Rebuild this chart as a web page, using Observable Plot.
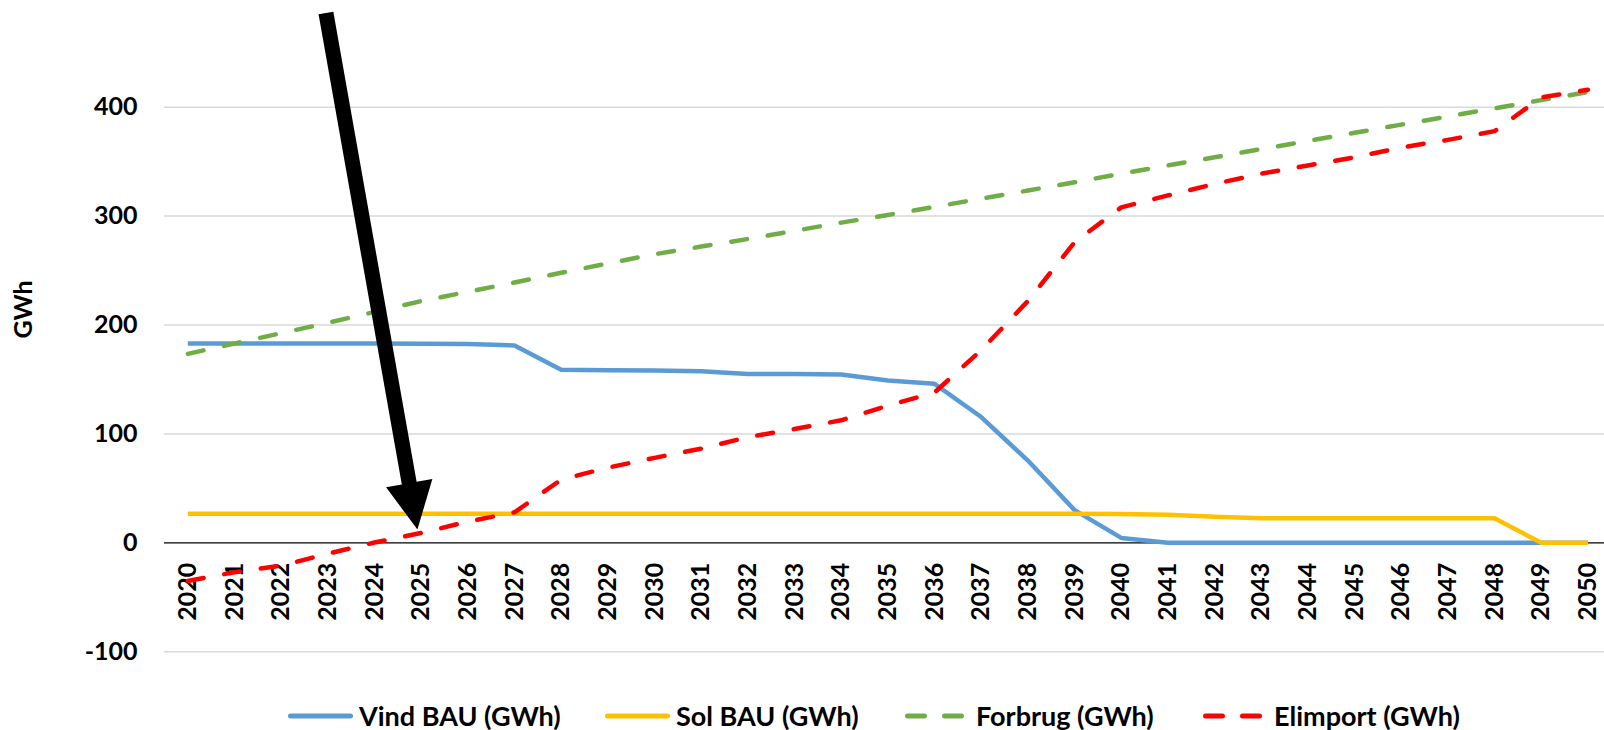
<!DOCTYPE html>
<html><head><meta charset="utf-8">
<script src="https://cdn.jsdelivr.net/npm/d3@7"></script>
<script src="https://cdn.jsdelivr.net/npm/@observablehq/plot@0.6"></script>
<style>
body{margin:0;background:#fff;font-family:Lato,"Open Sans",sans-serif;overflow:hidden;}
#legend{position:relative;height:40px;font-weight:bold;font-size:27px;line-height:40px;color:#000;white-space:nowrap;}
.item{position:absolute;top:0;height:40px;display:flex;align-items:center;}
.item svg{display:block;}
</style></head><body>
<div id="chart"></div>
<div id="legend"></div>
<script>
const YEARS = [2020,2021,2022,2023,2024,2025,2026,2027,2028,2029,2030,2031,2032,2033,2034,2035,2036,2037,2038,2039,2040,2041,2042,2043,2044,2045,2046,2047,2048,2049,2050];
const VIND = [183,183,183,183,183,182.7,182.5,181.2,159,158.5,158.3,157.5,155,155,154.5,149,146,115.5,75.5,30,4.5,0,0,0,0,0,0,0,0,0,0];
const SOL = [26.6,26.6,26.6,26.6,26.6,26.6,26.6,26.6,26.6,26.6,26.6,26.6,26.6,26.6,26.6,26.6,26.6,26.6,26.6,26.6,26.5,25.8,24,22.6,22.6,22.6,22.6,22.6,22.6,0,0];
const FORBRUG = [173.5,183,192.5,202,212,222,230.5,239,248,256.5,265,272,279,286.5,294,301,308.5,316,323.5,331,339,346.5,354,361.5,369,376.5,384,391.5,399,406.5,414];
const ELIMPORT = [-35,-27,-21,-10,0.3,9,19.5,28,58,69,78,86.5,97,104.5,112.5,126,138,177,222,276,308,319,329.5,339,346.5,354,363,370,378,409,416];
const Y_TICKS = [-100,0,100,200,300,400];
const Y_LABEL = "GWh";
const SERIES_NAMES = ["Vind BAU (GWh)","Sol BAU (GWh)","Forbrug (GWh)","Elimport (GWh)"];
const COLORS = ["#5B9BD5","#FFC000","#70AD47","#FF0000"];
const DASHED = [false,false,true,true];
// annotation arrow, in data coordinates (year, GWh)
const ARROW = {x1: 2022.97, y1: 486, x2: 2024.93, y2: 11.8};

const rows = YEARS.map((year,i)=>({year, vind:VIND[i], sol:SOL[i], forbrug:FORBRUG[i], elimport:ELIMPORT[i]}));
const keys = ["vind","sol","forbrug","elimport"];

const arrowMark = (index, scales) => {
  const x1 = scales.x(ARROW.x1), y1 = scales.y(ARROW.y1), x2 = scales.x(ARROW.x2), y2 = scales.y(ARROW.y2);
  const dx = x2-x1, dy = y2-y1, L = Math.hypot(dx,dy), ux = dx/L, uy = dy/L, nx = -uy, ny = ux;
  const hl = 47, hw = 23.5, sw = 7.5;
  const bx = x2-ux*hl, by = y2-uy*hl;
  const pts = [[x1+nx*sw,y1+ny*sw],[bx+nx*sw,by+ny*sw],[bx+nx*hw,by+ny*hw],[x2,y2],[bx-nx*hw,by-ny*hw],[bx-nx*sw,by-ny*sw],[x1-nx*sw,y1-ny*sw]];
  return d3.create("svg:path").attr("d","M"+pts.map(p=>p.join(",")).join("L")+"Z").attr("fill","#000").node();
};

const lineMarks = keys.map((k,i)=>Plot.line(rows,{x:"year", y:k, stroke:COLORS[i], strokeWidth:4.5,
  strokeDasharray: DASHED[i] ? "16,21" : null, strokeLinecap: DASHED[i] ? "round" : "butt", strokeLinejoin:"round"}));

const chart = Plot.plot({
  width:1604, height:696,
  marginLeft:164, marginRight:0, marginTop:0, marginBottom:0,
  style:{fontFamily:"Lato, 'Open Sans', sans-serif", fontSize:"25px", fontWeight:"bold", color:"#000", background:"#fff", overflow:"visible"},
  x:{type:"linear", domain:[2019.5,2050.5], range:[164,164+31*46.67], axis:null},
  y:{domain:[-100,400], range:[651.2,106.7], axis:null},
  marks:[
    Plot.ruleY(Y_TICKS.filter(d=>d!==0),{stroke:"#D9D9D9", strokeWidth:1.5}),
    Plot.ruleY([0],{stroke:"#000", strokeWidth:1.3}),
    Plot.axisY(Y_TICKS,{tickSize:0, tickPadding:27, tickFormat:d=>String(d), fontSize:25, fontWeight:"bold", label:null}),
    Plot.text(YEARS,{x:d=>d, y:0, text:d=>String(d), rotate:-90, textAnchor:"end", dy:20, fontSize:25, fontWeight:"bold", fill:"#000"}),
    Plot.text([Y_LABEL],{frameAnchor:"left", dx:-141, dy:-10, rotate:-90, fontSize:25, fontWeight:"bold", fill:"#000"}),
    ...lineMarks,
    arrowMark
  ]
});
document.getElementById("chart").appendChild(chart);

// legend item left edges (px)
const LEGEND_LEFT = [288, 605, 905, 1203];
const legend = document.getElementById("legend");
SERIES_NAMES.forEach((name,i)=>{
  const item = document.createElement("div");
  item.className = "item";
  item.style.left = LEGEND_LEFT[i] + "px";
  const w = DASHED[i] ? 59 : 65;
  const sample = d3.create("svg").attr("width", w).attr("height", 10).style("margin-right", DASHED[i] ? "12px" : "6px");
  if (DASHED[i]) {
    sample.append("line").attr("x1",2.5).attr("x2",w-2.5).attr("y1",5).attr("y2",5).attr("stroke",COLORS[i]).attr("stroke-width",5).attr("stroke-linecap","round").attr("stroke-dasharray","17,20");
  } else {
    sample.append("line").attr("x1",2.5).attr("x2",w-2.5).attr("y1",5).attr("y2",5).attr("stroke",COLORS[i]).attr("stroke-width",5).attr("stroke-linecap","round");
  }
  item.appendChild(sample.node());
  const t = document.createElement("span");
  t.textContent = name;
  item.appendChild(t);
  legend.appendChild(item);
});
</script>
</body></html>
